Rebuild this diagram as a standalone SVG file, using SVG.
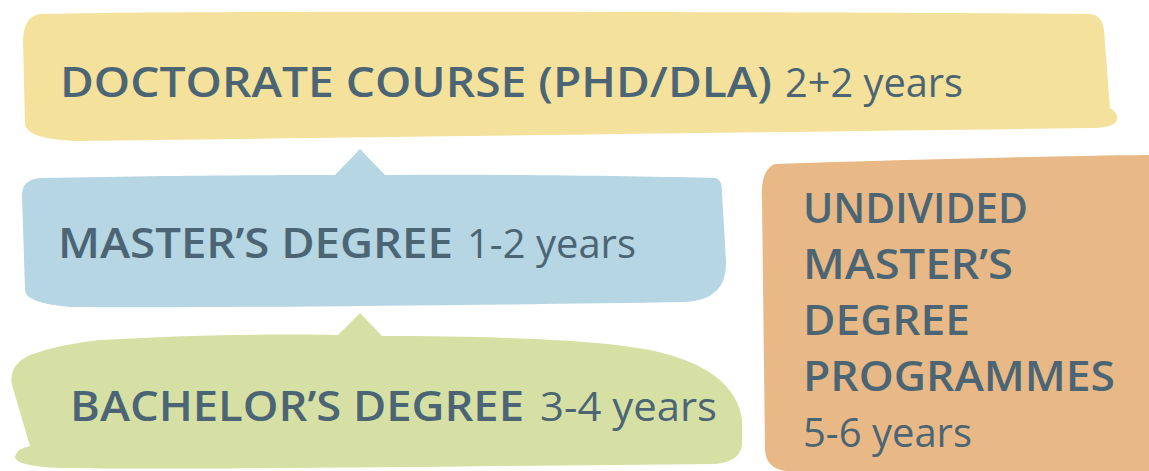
<svg xmlns="http://www.w3.org/2000/svg" width="1149" height="471" viewBox="0 0 1149 471">
<style>
.b{font-family:"Open Sans","Noto Sans","Liberation Sans",sans-serif;font-weight:600;font-size:41px;fill:#4b6574}
.r{font-family:"Open Sans","Noto Sans","Liberation Sans",sans-serif;font-weight:400;font-size:41px;fill:#4b6574}
</style>
<rect width="1149" height="471" fill="#ffffff"/>
<g id="doctorate">
<path fill="#f4e19c" d="M 40 14 C 200 10, 800 12, 1090 14 Q 1102 15, 1104 30 L 1110 108 Q 1120 114, 1116 122 Q 1110 128, 1090 128 C 800 132, 300 138, 75 141 Q 28 139, 25 125 L 23 40 Q 24 16, 40 14 Z"/>
<text class="b" x="60" y="97" textLength="712" lengthAdjust="spacingAndGlyphs">DOCTORATE COURSE (PHD/DLA)</text>
<text class="r" x="785" y="97" textLength="178" lengthAdjust="spacingAndGlyphs">2+2 years</text>
</g>
<g id="master">
<path fill="#b5d6e2" d="M 40 178 C 200 175, 300 175, 335 175 L 360 149 L 385 175 C 500 174, 650 176, 716 178 Q 722 180, 722 192 L 726 262 Q 727 300, 685 302 C 500 305, 200 308, 70 307 Q 25 303, 25 290 L 22 195 Q 22 180, 40 178 Z"/>
<text class="b" x="58" y="258" textLength="395" lengthAdjust="spacingAndGlyphs">MASTER’S DEGREE</text>
<text class="r" x="467" y="258" textLength="169" lengthAdjust="spacingAndGlyphs">1-2 years</text>
</g>
<g id="bachelor">
<path fill="#d7e0a4" d="M 100 340 C 200 334, 300 334, 338 335 L 360 313 L 382 336 C 500 336, 600 340, 650 350 Q 735 368, 742 420 L 742 445 Q 740 462, 715 464 C 500 466, 200 470, 60 468 Q 14 466, 15 456 Q 18 448, 30 446 L 12 385 Q 8 365, 30 355 Q 60 344, 100 340 Z"/>
<text class="b" x="70" y="421" textLength="454" lengthAdjust="spacingAndGlyphs">BACHELOR’S DEGREE</text>
<text class="r" x="540" y="421" textLength="177" lengthAdjust="spacingAndGlyphs">3-4 years</text>
</g>
<g id="undivided">
<path fill="#e8b986" d="M 775 164 C 900 160, 1050 156, 1149 155 L 1149 471 L 785 471 Q 766 468, 765 450 L 762 200 Q 760 170, 775 164 Z"/>
<text class="b" x="803" y="223" textLength="225" lengthAdjust="spacingAndGlyphs">UNDIVIDED</text>
<text class="b" x="803" y="279" textLength="210" lengthAdjust="spacingAndGlyphs">MASTER’S</text>
<text class="b" x="803" y="335" textLength="167" lengthAdjust="spacingAndGlyphs">DEGREE</text>
<text class="b" x="803" y="391" textLength="312" lengthAdjust="spacingAndGlyphs">PROGRAMMES</text>
<text class="r" x="803" y="447" textLength="169" lengthAdjust="spacingAndGlyphs">5-6 years</text>
</g>
<g id="connectors"/>
</svg>
